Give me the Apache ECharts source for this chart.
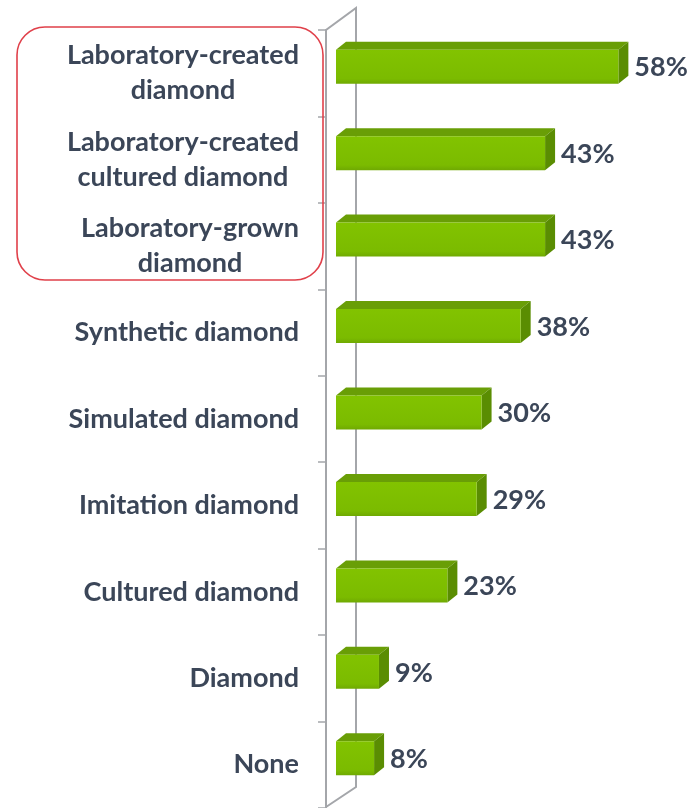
<!DOCTYPE html>
<html>
<head>
<meta charset="utf-8">
<script src="https://cdn.jsdelivr.net/npm/echarts@6/dist/echarts.min.js"></script>
<style>
  html, body { margin: 0; padding: 0; background: #ffffff; }
  #chart { width: 693px; height: 808px; }
</style>
</head>
<body>
<div id="chart"></div>
<script>
// Terms respondents associate with lab-made stones (share of respondents, %)
const categories = [
  'Laboratory-created\ndiamond',
  'Laboratory-created\ncultured diamond',
  'Laboratory-grown\ndiamond',
  'Synthetic diamond',
  'Simulated diamond',
  'Imitation diamond',
  'Cultured diamond',
  'Diamond',
  'None'
];
const shares = [58, 43, 43, 38, 30, 29, 23, 9, 8];

const TEXT = '#3B4658';
const WALL = '#a4a6aa';
const FONT = 'Lato';
const DEPTH_X = 10;   // 3D extrusion of each bar
const DEPTH_Y = 8;
const FACE_H = 34;    // height of a bar's front face
const LIFT = 6.5;     // bars sit a little above the band centre

const chart = echarts.init(document.getElementById('chart'), null, { renderer: 'canvas' });

function renderBar(params, api) {
  const v = api.value(0);
  const start = api.coord([0, api.value(1)]);
  const end = api.coord([v, api.value(1)]);
  const cy = start[1] - LIFT;
  const x0 = start[0] + 1, x1 = end[0];
  const yT = cy - FACE_H / 2, yB = cy + FACE_H / 2;
  return {
    type: 'group',
    children: [
      {
        type: 'polygon',
        shape: { points: [[x0, yT], [x1, yT], [x1 + DEPTH_X, yT - DEPTH_Y], [x0 + DEPTH_X, yT - DEPTH_Y]] },
        style: { fill: '#699e06' }
      },
      {
        type: 'polygon',
        shape: { points: [[x1, yT], [x1 + DEPTH_X, yT - DEPTH_Y], [x1 + DEPTH_X, yB - DEPTH_Y], [x1, yB]] },
        style: { fill: '#5a8d02' }
      },
      {
        type: 'rect',
        shape: { x: x0, y: yT, width: x1 - x0, height: FACE_H },
        style: {
          fill: new echarts.graphic.LinearGradient(0, 0, 0, 1, [
            { offset: 0, color: '#82c300' },
            { offset: 0.85, color: '#7bbb00' },
            { offset: 1, color: '#6fa902' }
          ])
        }
      },
      {
        type: 'text',
        x: x1 + DEPTH_X + 6,
        y: cy + 1,
        style: {
          text: v + '%',
          fill: TEXT,
          font: 'bold 27px ' + FONT,
          verticalAlign: 'middle',
          align: 'left'
        }
      }
    ]
  };
}

chart.setOption({
  animation: false,
  backgroundColor: '#ffffff',
  grid: { left: 335, right: 16, top: 30, bottom: 0 },
  xAxis: {
    type: 'value', min: 0, max: 70,
    show: false
  },
  yAxis: {
    type: 'category',
    inverse: true,
    data: categories,
    offset: 9,
    axisLine: { show: true, onZero: false, lineStyle: { color: WALL, width: 2 } },
    axisTick: { show: true, length: 8, lineStyle: { color: WALL, width: 1.5 } },
    axisLabel: {
      margin: 27,
      align: 'right',
      color: TEXT,
      fontFamily: FONT,
      fontWeight: 'bold',
      fontSize: 27,
      lineHeight: 35,
      formatter: function (label) {
        const lines = label.split('\n');
        if (lines.length === 1) return label;
        return lines.map(function (l) { return '{c|' + l + '}'; }).join('\n');
      },
      rich: {
        c: { align: 'center', color: TEXT, fontFamily: FONT, fontWeight: 'bold', fontSize: 27, lineHeight: 35 }
      }
    },
    splitLine: { show: false }
  },
  graphic: [
    // side wall: front edge, top, back edge and bottom
    {
      type: 'polyline', z: 0,
      shape: { points: [[326, 808], [326, 30], [356, 8], [356, 787], [326, 807]] },
      style: { stroke: WALL, lineWidth: 2, fill: null }
    },
    // outline grouping the "laboratory" terms
    {
      type: 'rect', z: 10,
      shape: { x: 17, y: 27, width: 306, height: 253, r: 28 },
      style: { stroke: '#e0404a', lineWidth: 1.6, fill: null }
    }
  ],
  series: [{
    type: 'custom',
    renderItem: renderBar,
    clip: false,
    encode: { x: 0, y: 1 },
    data: shares.map(function (v, i) { return [v, i]; })
  }]
});
</script>
</body>
</html>
